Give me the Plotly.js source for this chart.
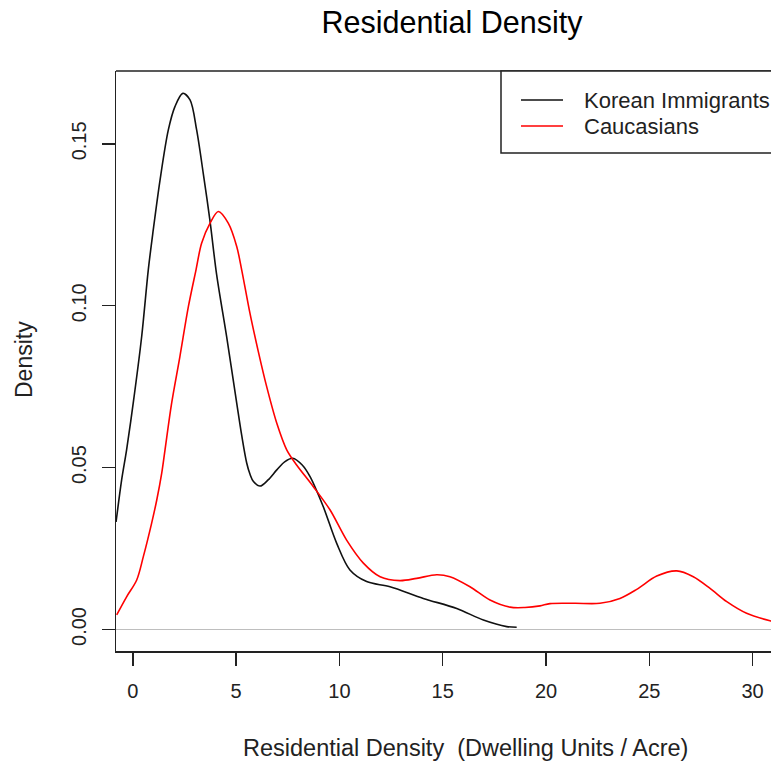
<!DOCTYPE html>
<html>
<head>
<meta charset="utf-8">
<script src="https://cdn.plot.ly/plotly-3.0.1.min.js"></script>
<style>html,body{margin:0;padding:0;background:#fff;}#chart{width:771px;height:762px;}</style>
</head>
<body>
<div id="chart"></div>
<script>
// Korean Immigrants density curve
const koreanX = [-0.81, -0.54, -0.30, 0.02, 0.43, 0.75, 0.99, 1.32, 1.72, 2.04, 2.42, 2.77, 3.09, 3.41, 3.73, 4.06, 4.54, 5.03, 5.27, 5.51, 5.67, 5.84, 6.16, 6.55, 6.97, 7.35, 7.74, 8.20, 8.58, 9.22, 9.87, 10.51, 11.32, 12.45, 14.06, 15.68, 16.97, 18.10, 18.58];
const koreanY = [0.0332, 0.0462, 0.0555, 0.0699, 0.0905, 0.1111, 0.1234, 0.1389, 0.1543, 0.1615, 0.1656, 0.1636, 0.1543, 0.1409, 0.1265, 0.1095, 0.0905, 0.0699, 0.0600, 0.0515, 0.0480, 0.0457, 0.0443, 0.0462, 0.0493, 0.0518, 0.0529, 0.0508, 0.0472, 0.0379, 0.0266, 0.0184, 0.0148, 0.0132, 0.0096, 0.0065, 0.0029, 0.0009, 0.0007];
// Caucasians density curve
const caucX = [-0.78, -0.30, 0.19, 0.51, 0.91, 1.16, 1.40, 1.56, 1.88, 2.28, 2.69, 3.06, 3.33, 3.74, 4.14, 4.62, 5.03, 5.27, 5.67, 6.07, 6.48, 6.97, 7.45, 7.93, 8.74, 9.55, 10.35, 11.16, 11.97, 12.93, 13.74, 14.71, 15.35, 16.32, 17.29, 18.26, 18.98, 19.71, 20.19, 21.40, 22.61, 23.58, 24.39, 25.36, 26.33, 27.13, 27.94, 28.75, 29.71, 30.84, 31.5];
const caucY = [0.0045, 0.0101, 0.0153, 0.0225, 0.0328, 0.0400, 0.0483, 0.0555, 0.0699, 0.0843, 0.0997, 0.1111, 0.1193, 0.1255, 0.1291, 0.1255, 0.1183, 0.1111, 0.0977, 0.0860, 0.0750, 0.0637, 0.0555, 0.0508, 0.0441, 0.0369, 0.0276, 0.0205, 0.0163, 0.0151, 0.0158, 0.0169, 0.0163, 0.0132, 0.0091, 0.0069, 0.0068, 0.0073, 0.0080, 0.0081, 0.0081, 0.0096, 0.0124, 0.0165, 0.0181, 0.0163, 0.0127, 0.0086, 0.0050, 0.0027, 0.0018];

const seriesNames = ['Korean Immigrants', 'Caucasians'];
const xTicks = [0, 5, 10, 15, 20, 25, 30];
const xTickLabels = ['0', '5', '10', '15', '20', '25', '30'];
const yTicks = [0, 0.05, 0.10, 0.15];
const yTickLabels = ['0.00', '0.05', '0.10', '0.15'];

const FONT = 'Liberation Sans, Arial, sans-serif';
const INK = '#222222';

const traces = [
  {x: koreanX, y: koreanY, type: 'scatter', mode: 'lines', name: seriesNames[0],
   line: {color: '#111111', width: 1.6, shape: 'spline', smoothing: 0.9}, showlegend: false},
  {x: caucX, y: caucY, type: 'scatter', mode: 'lines', name: seriesNames[1],
   line: {color: '#ff0000', width: 1.6, shape: 'spline', smoothing: 0.9}, showlegend: false}
];

// legend geometry in paper coordinates (plot area 116..771 x 71..651)
const px = v => (v - 116) / 655;
const py = v => (651 - v) / 580;

const layout = {
  width: 771, height: 762,
  margin: {l: 116, r: 0, t: 71, b: 111, pad: 0},
  paper_bgcolor: '#ffffff', plot_bgcolor: '#ffffff',
  font: {family: FONT, color: INK},
  title: {text: 'Residential Density', font: {family: FONT, size: 30.5, color: '#000'},
          x: 452 / 771, xref: 'container', xanchor: 'center',
          y: 1 - 22 / 762, yref: 'container', yanchor: 'middle'},
  xaxis: {range: [-0.813, 30.89], tickvals: xTicks, ticktext: xTickLabels,
          ticks: 'outside', ticklen: 13, tickwidth: 1.5, tickcolor: INK,
          showline: true, linecolor: INK, linewidth: 1.5, showgrid: false, zeroline: false,
          tickfont: {family: FONT, size: 20, color: INK}, ticklabelstandoff: 8, fixedrange: true},
  yaxis: {range: [-0.00664, 0.1725], tickvals: yTicks, ticktext: yTickLabels,
          ticks: 'outside', ticklen: 13, tickwidth: 1.5, tickcolor: INK, tickangle: -90,
          showline: true, linecolor: INK, linewidth: 1.5, showgrid: false,
          zeroline: true, zerolinecolor: '#bebebe', zerolinewidth: 1.5,
          tickfont: {family: FONT, size: 20, color: INK}, ticklabelstandoff: 8, fixedrange: true},
  shapes: [
    {type: 'line', xref: 'paper', yref: 'paper', x0: 0, x1: 1, y0: 1, y1: 1, line: {color: INK, width: 1.5}},
    {type: 'rect', xref: 'paper', yref: 'paper', x0: px(501), x1: px(800), y0: py(153), y1: 1,
     line: {color: INK, width: 1.5}, fillcolor: '#ffffff'},
    {type: 'line', xref: 'paper', yref: 'paper', x0: px(521), x1: px(563), y0: py(100), y1: py(100), line: {color: '#111', width: 1.6}},
    {type: 'line', xref: 'paper', yref: 'paper', x0: px(521), x1: px(563), y0: py(126), y1: py(126), line: {color: '#ff0000', width: 1.6}}
  ],
  annotations: [
    {text: seriesNames[0], xref: 'paper', yref: 'paper', x: px(582), y: py(100), xanchor: 'left', yanchor: 'middle',
     showarrow: false, font: {family: FONT, size: 22, color: INK}},
    {text: seriesNames[1], xref: 'paper', yref: 'paper', x: px(582), y: py(127), xanchor: 'left', yanchor: 'middle',
     showarrow: false, font: {family: FONT, size: 22, color: INK}},
    {text: 'Residential Density  (Dwelling Units / Acre)', xref: 'paper', yref: 'paper',
     x: px(465), y: py(748), xanchor: 'center', yanchor: 'middle', showarrow: false,
     font: {family: FONT, size: 23.5, color: INK}},
    {text: 'Density', xref: 'paper', yref: 'paper', x: px(24), y: py(360), xanchor: 'center', yanchor: 'middle',
     textangle: -90, showarrow: false, font: {family: FONT, size: 23, color: INK}}
  ]
};

Plotly.newPlot('chart', traces, layout, {displayModeBar: false, staticPlot: true});
</script>
</body>
</html>
